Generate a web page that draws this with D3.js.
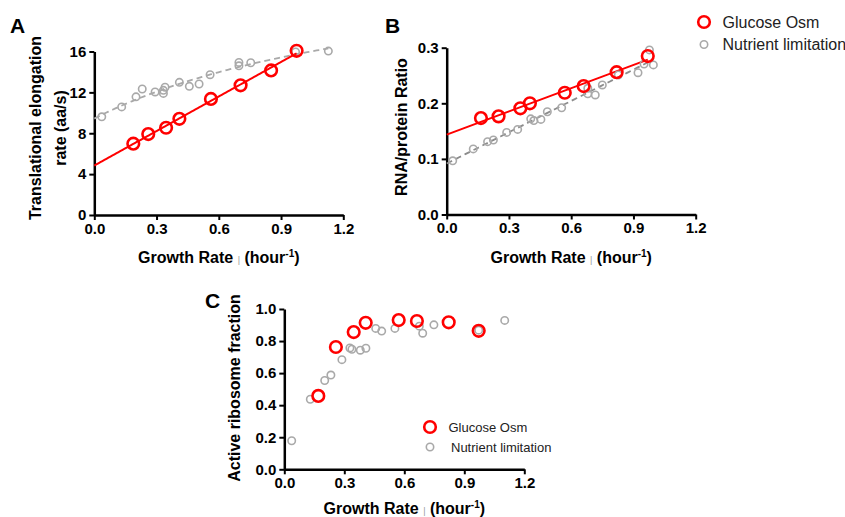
<!DOCTYPE html>
<html>
<head>
<meta charset="utf-8">
<script src="https://cdn.jsdelivr.net/npm/d3@7"></script>
<style>
  body { margin: 0; background: #fff; }
  svg { display: block; font-family: "Liberation Sans", Arial, sans-serif; }
</style>
</head>
<body>
<svg id="chart" width="845" height="517"></svg>
<script>
const osmRate = [0.188, 0.26, 0.346, 0.41, 0.562, 0.705, 0.852, 0.975];
const osmElong = [6.98, 7.92, 8.54, 9.41, 11.36, 12.69, 14.15, 16.07];

const limRateA = [0.036, 0.132, 0.201, 0.231, 0.293, 0.333, 0.333, 0.341, 0.41, 0.458, 0.505, 0.558, 0.697, 0.697, 0.754, 0.97, 1.128];
const limElong = [9.61, 10.58, 11.56, 12.33, 12.04, 12.2, 11.9, 12.5, 12.98, 12.59, 12.82, 13.73, 14.93, 14.6, 14.9, 15.95, 16.04];

const osmRateB = [0.165, 0.25, 0.355, 0.401, 0.569, 0.66, 0.819, 0.969];
const osmRP = [0.1734, 0.1765, 0.191, 0.200, 0.219, 0.231, 0.256, 0.285];

const limRateB = [0.029, 0.128, 0.197, 0.225, 0.289, 0.342, 0.405, 0.42, 0.454, 0.485, 0.554, 0.68, 0.68, 0.716, 0.75, 0.827, 0.922, 0.951, 0.977, 0.996];
const limRP = [0.0966, 0.118, 0.131, 0.134, 0.1477, 0.153, 0.172, 0.169, 0.171, 0.1848, 0.192, 0.227, 0.217, 0.215, 0.233, 0.251, 0.255, 0.2707, 0.296, 0.269];

const osmRateC = [0.17, 0.258, 0.347, 0.407, 0.572, 0.663, 0.822, 0.972];
const osmActive = [0.458, 0.763, 0.856, 0.914, 0.931, 0.925, 0.917, 0.864];

const limRateC = [0.037, 0.13, 0.202, 0.233, 0.288, 0.328, 0.338, 0.38, 0.408, 0.457, 0.487, 0.553, 0.675, 0.692, 0.748, 0.972, 1.102];
const limActive = [0.178, 0.437, 0.554, 0.588, 0.684, 0.757, 0.749, 0.743, 0.755, 0.879, 0.862, 0.879, 0.893, 0.849, 0.901, 0.868, 0.929];

const xTicks = [0, 0.3, 0.6, 0.9, 1.2];
const yTicksA = [0, 4, 8, 12, 16];
const yTicksB = [0, 0.1, 0.2, 0.3];
const yTicksC = [0, 0.2, 0.4, 0.6, 0.8, 1.0];

const seriesNames = ["Glucose Osm", "Nutrient limitation"];

const RED = "#ff0000";
const GREY = "#a9a9a9";

const svg = d3.select("#chart");

function linFit(xs, ys) {
    const mx = d3.mean(xs), my = d3.mean(ys);
    let sxy = 0, sxx = 0;
    xs.forEach((x, i) => { sxy += (x - mx) * (ys[i] - my); sxx += (x - mx) * (x - mx); });
    const b = sxy / sxx;
    const a = my - b * mx;
    return x => a + b * x;
}

// y = a + b * x / (x + c), c found by a plain search
function satFit(xs, ys) {
    let best = null;
    for (let c = 0.02; c <= 3; c += 0.005) {
        const us = xs.map(x => x / (x + c));
        const f = linFit(us, ys);
        const sse = d3.sum(us, (u, i) => (f(u) - ys[i]) ** 2);
        if (!best || sse < best.sse) best = { sse, c, f };
    }
    return x => best.f(x / (x + best.c));
}

function styleAxis(g) {
    g.select(".domain").attr("stroke", "#000").attr("stroke-width", 2.5);
    g.selectAll(".tick line").attr("stroke", "#000").attr("stroke-width", 2);
    g.selectAll(".tick text")
        .attr("fill", "#000")
        .attr("font-size", 15)
        .attr("font-weight", "bold")
        .attr("font-family", "Liberation Sans, Arial, sans-serif");
}

function growthLabel(g, cx, y) {
    const t = g.append("text")
        .attr("x", cx)
        .attr("y", y)
        .attr("text-anchor", "middle")
        .attr("font-size", 16)
        .attr("font-weight", "bold");
    t.append("tspan").text("Growth Rate ");
    t.append("tspan").attr("font-size", 9).attr("fill", "#999").attr("font-weight", "normal").text("|");
    t.append("tspan").text(" (hour");
    t.append("tspan").attr("font-size", 10).attr("dy", -6).text("-1");
    t.append("tspan").attr("dy", 6).text(")");
}

function panel(p) {
    const x = d3.scaleLinear().domain([0, 1.2]).range(p.xr);
    const y = d3.scaleLinear().domain([0, p.ymax]).range(p.yr);
    const g = svg.append("g");

    g.append("g")
        .attr("transform", `translate(0,${p.yr[0]})`)
        .call(d3.axisBottom(x).tickValues(xTicks).tickSize(5).tickSizeOuter(0).tickPadding(3).tickFormat(d3.format(".1f")))
        .call(styleAxis);

    g.append("g")
        .attr("transform", `translate(${p.xr[0]},0)`)
        .call(d3.axisLeft(y).tickValues(p.yTicks).tickSize(5).tickSizeOuter(0).tickPadding(3).tickFormat(p.yFmt))
        .call(styleAxis);

    const line = d3.line().x(d => x(d[0])).y(d => y(d[1]));

    (p.fits || []).forEach(f => {
        const xmax = d3.max(f.xs);
        const pts = d3.range(0, xmax + 1e-9, xmax / 100).map(v => [v, f.fn(v)]);
        g.append("path")
            .datum(pts)
            .attr("fill", "none")
            .attr("stroke", f.color)
            .attr("stroke-width", f.width)
            .attr("stroke-dasharray", f.dash || null)
            .attr("d", line);
    });

    g.selectAll(".lim")
        .data(p.lim[0].map((v, i) => [v, p.lim[1][i]]))
        .enter().append("circle")
        .attr("cx", d => x(d[0]))
        .attr("cy", d => y(d[1]))
        .attr("r", 3.7)
        .attr("fill", "none")
        .attr("stroke", GREY)
        .attr("stroke-width", 1.6);

    g.selectAll(".osm")
        .data(p.osm[0].map((v, i) => [v, p.osm[1][i]]))
        .enter().append("circle")
        .attr("cx", d => x(d[0]))
        .attr("cy", d => y(d[1]))
        .attr("r", 5.8)
        .attr("fill", "none")
        .attr("stroke", RED)
        .attr("stroke-width", 2.6);

    g.append("text")
        .attr("x", p.letter[0])
        .attr("y", p.letter[1])
        .attr("font-size", 21)
        .attr("font-weight", "bold")
        .text(p.name);

    p.ylab.forEach(lab => {
        g.append("text")
            .attr("transform", `translate(${lab.x},${p.ylabY}) rotate(-90)`)
            .attr("text-anchor", "middle")
            .attr("font-size", 16)
            .attr("font-weight", "bold")
            .text(lab.t);
    });

    growthLabel(g, (p.xr[0] + p.xr[1]) / 2, p.xlabY);
}

panel({
    name: "A", letter: [10, 33],
    xr: [94.3, 343.3], yr: [215, 51.5], ymax: 16, yTicks: yTicksA, yFmt: d3.format("d"),
    osm: [osmRate, osmElong], lim: [limRateA, limElong],
    fits: [
        { xs: limRateA, fn: satFit(limRateA, limElong), color: GREY, width: 1.8, dash: "6,4" },
        { xs: osmRate, fn: linFit(osmRate, osmElong), color: RED, width: 2 }
    ],
    ylab: [{ x: 41, t: "Translational elongation" }, { x: 66, t: "rate (aa/s)" }], ylabY: 128,
    xlabY: 263
});

panel({
    name: "B", letter: [385, 33],
    xr: [446.7, 695.7], yr: [214.5, 47.7], ymax: 0.3, yTicks: yTicksB, yFmt: d3.format(".1f"),
    osm: [osmRateB, osmRP], lim: [limRateB, limRP],
    fits: [
        { xs: limRateB, fn: linFit(limRateB, limRP), color: "#8c8c8c", width: 1.8, dash: "6,4" },
        { xs: osmRateB, fn: linFit(osmRateB, osmRP), color: RED, width: 2 }
    ],
    ylab: [{ x: 407, t: "RNA/protein Ratio" }], ylabY: 127,
    xlabY: 263
});

panel({
    name: "C", letter: [205, 308],
    xr: [284.3, 524.3], yr: [469.3, 309], ymax: 1.0, yTicks: yTicksC, yFmt: d3.format(".1f"),
    osm: [osmRateC, osmActive], lim: [limRateC, limActive],
    ylab: [{ x: 240, t: "Active ribosome fraction" }], ylabY: 388,
    xlabY: 514
});

// legends
function legend(x, y, gap, size, tx) {
    const g = svg.append("g");
    g.append("circle").attr("cx", x).attr("cy", y).attr("r", 5.8)
        .attr("fill", "none").attr("stroke", RED).attr("stroke-width", 2.6);
    g.append("circle").attr("cx", x).attr("cy", y + gap).attr("r", 3.7)
        .attr("fill", "none").attr("stroke", GREY).attr("stroke-width", 1.6);
    seriesNames.forEach((s, i) => {
        g.append("text")
            .attr("x", x + tx[i])
            .attr("y", y + i * gap)
            .attr("dy", "0.35em")
            .attr("font-size", size)
            .attr("fill", "#222")
            .text(s);
    });
}
legend(704, 22, 22.5, 16, [18.5, 18.5]);
legend(430, 427, 20, 13, [18.5, 21]);
</script>
</body>
</html>
